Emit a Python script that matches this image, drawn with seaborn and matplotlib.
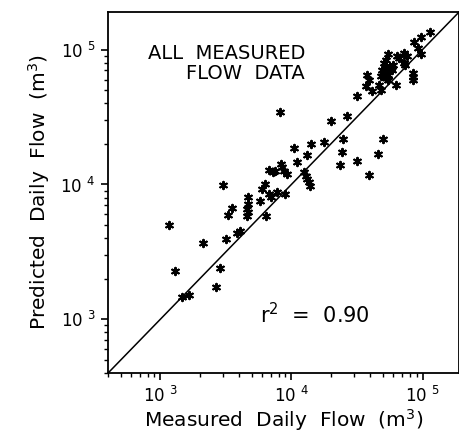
import pandas as pd
import seaborn as sns
import matplotlib.pyplot as plt
from matplotlib.ticker import LogLocator, FixedLocator, FixedFormatter, NullFormatter

# measured vs predicted daily flow (m3)
measured = [1.15e5, 9.8e4, 8.55e4, 9.3e4, 9.8e4, 6.35e4, 6.6e4, 7.2e4, 7.6e4, 7.2e4,
            7.4e4, 5.5e4, 5.3e4, 5.1e4, 5.25e4, 5.3e4, 5.7e4, 4.9e4, 5.1e4, 5.5e4,
            5.8e4, 6.0e4, 4.8e4, 5.25e4, 5.5e4, 8.4e4, 8.4e4, 8.4e4, 6.25e4, 3.77e4,
            3.9e4, 3.7e4, 4.65e4, 4.1e4, 3.16e4, 4.8e4, 2.65e4, 2.0e4, 8.25e3, 2.48e4,
            4.98e4, 1.78e4, 1.42e4, 1.04e4, 2.43e4, 1.32e4, 4.56e4, 3.16e4, 2.35e4, 1.11e4,
            8.4e3, 8.55e3, 8.85e3, 9.2e3, 6.8e3, 7.2e3, 7.55e3, 3.9e4, 1.25e4, 1.3e4,
            1.32e4, 1.37e4, 1.39e4, 3.0e3, 6.25e3, 6.0e3, 6.8e3, 7.05e3, 7.7e3, 9.0e3,
            4.64e3, 4.64e3, 4.56e3, 4.64e3, 4.56e3, 5.72e3, 3.5e3, 3.27e3, 6.35e3, 4.04e3,
            3.83e3, 3.16e3, 2.12e3, 1.17e3, 1.3e3, 2.85e3, 2.66e3, 1.47e3, 1.66e3]
predicted = [1.34e5, 1.23e5, 1.13e5, 1.035e5, 9.3e4, 9.0e4, 8.7e4, 9.5e4, 9.0e4, 8.0e4,
             7.7e4, 9.2e4, 8.4e4, 8.0e4, 7.6e4, 7.1e4, 7.3e4, 7.0e4, 6.5e4, 6.5e4,
             7.0e4, 7.7e4, 6.4e4, 6.2e4, 6.0e4, 6.7e4, 6.3e4, 5.9e4, 5.5e4, 6.5e4,
             6.0e4, 5.4e4, 5.5e4, 4.9e4, 4.5e4, 5.0e4, 3.2e4, 2.94e4, 3.43e4, 2.19e4,
             2.19e4, 2.05e4, 1.98e4, 1.85e4, 1.75e4, 1.66e4, 1.69e4, 1.5e4, 1.4e4, 1.47e4,
             1.43e4, 1.35e4, 1.26e4, 1.2e4, 1.28e4, 1.24e4, 1.26e4, 1.18e4, 1.24e4, 1.16e4,
             1.1e4, 1.045e4, 9.75e3, 9.9e3, 1.01e4, 9.25e3, 8.5e3, 8.05e3, 8.8e3, 8.5e3,
             8.05e3, 7.15e3, 6.55e3, 6.2e3, 5.8e3, 7.5e3, 6.67e3, 5.9e3, 5.8e3, 4.5e3,
             4.4e3, 3.97e3, 3.7e3, 4.97e3, 2.29e3, 2.41e3, 1.74e3, 1.46e3, 1.51e3]
axis_lim = [400, 1.9e5]
major_ticks = [1e3, 1e4, 1e5]
tick_labels = ["10 $^{3}$", "10 $^{4}$", "10 $^{5}$"]

df = pd.DataFrame({"measured": measured, "predicted": predicted})

sns.set_style("ticks")
plt.rcParams["font.family"] = ["DejaVu Sans"]
plt.rcParams.update({"text.color": "black", "axes.labelcolor": "black",
                     "xtick.color": "black", "ytick.color": "black",
                     "axes.edgecolor": "black"})

fig = plt.figure(figsize=(4.6, 4.36), dpi=100)
ax = fig.add_axes([0.235, 0.1445, 0.763, 0.828])

sns.lineplot(x=axis_lim, y=axis_lim, color="black", lw=1.1, ax=ax)
sns.scatterplot(data=df, x="measured", y="predicted", marker=(6, 2, 0), s=28,
                color="black", linewidth=1.5, edgecolor="black", ax=ax, zorder=3)

ax.set_xscale("log")
ax.set_yscale("log")
ax.set_xlim(axis_lim)
ax.set_ylim(axis_lim)

for a in (ax.xaxis, ax.yaxis):
    a.set_major_locator(FixedLocator(major_ticks))
    a.set_major_formatter(FixedFormatter(tick_labels))
    a.set_minor_locator(LogLocator(base=10, subs=range(2, 10)))
    a.set_minor_formatter(NullFormatter())
ax.tick_params(which="major", direction="out", length=5, width=1.2, labelsize=12,
               top=False, right=False)
ax.tick_params(which="minor", direction="out", length=3, width=1.0, top=False, right=False)
ax.tick_params(axis="x", pad=4)
ax.tick_params(axis="y", pad=4)
for s in ax.spines.values():
    s.set_linewidth(1.3)

ax.set_xlabel("Measured  Daily  Flow  (m$^3$)", fontsize=14.5, labelpad=1)
ax.set_ylabel("Predicted  Daily  Flow  (m$^3$)", fontsize=14.5, labelpad=6)

ax.text(0.561, 0.91, "ALL  MEASURED\nFLOW  DATA", transform=ax.transAxes,
        ha="right", va="top", fontsize=14, linespacing=1.05, multialignment="right")
ax.text(0.433, 0.139, "r$^2$  =  0.90", transform=ax.transAxes,
        ha="left", va="baseline", fontsize=15)

fig.savefig("out.png", dpi=100)
